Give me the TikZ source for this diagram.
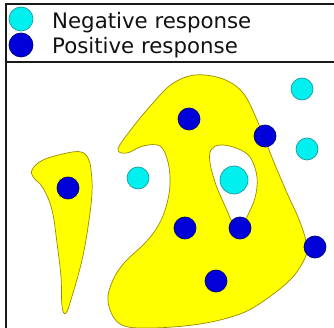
\documentclass[tikz,border=0pt]{standalone}
\usepackage{fontspec}
\setmainfont{DejaVu Sans}
\usetikzlibrary{positioning}
\definecolor{Ink}{HTML}{111111}
\definecolor{Frame}{HTML}{1A1A1A}
\definecolor{Blob}{HTML}{FFFF00}
\definecolor{BlobLine}{HTML}{9A8A00}
\definecolor{Neg}{HTML}{00F0F0}
\definecolor{NegLine}{HTML}{1E9A9A}
\definecolor{Pos}{HTML}{0000D8}
\definecolor{PosLine}{HTML}{00007A}
\tikzset{
  blob/.style={fill=Blob,draw=BlobLine,line width=0.7pt,even odd rule},
  negdot/.style={circle,fill=Neg,draw=NegLine,line width=0.7pt,minimum size=22pt,inner sep=0pt},
  posdot/.style={circle,fill=Pos,draw=PosLine,line width=0.7pt,minimum size=22pt,inner sep=0pt},
  legtext/.style={anchor=base west,inner sep=0pt,font=\fontsize{21.3}{25}\selectfont,text=Ink},
  frameline/.style={draw=Frame,line width=1.6pt}
}
\begin{document}
\begin{tikzpicture}[x=1pt,y=-1pt]
\useasboundingbox (0,0) rectangle (334,328);
% frame and legend
\draw[frameline] (334,4) -- (6,4) -- (6,328);
\draw[frameline] (6,62) -- (334,62);
\node[negdot,minimum size=24pt] (legneg) at (21,19) {};
\node[posdot,minimum size=24pt] (legpos) at (21,45) {};
\node[legtext] (negtxt) at (52,29) {Negative response};
\node[legtext] (postxt) at (52,54) {Positive response};
% left blob
\draw[blob] plot[smooth cycle,tension=0.65] coordinates {
  (32,170) (43,160) (67,153) (81,152) (88,158) (91,170) (92,193)
  (88,227) (82,260) (73,293) (66,313) (62,306) (61,277) (57,243)
  (52,210) (43,188) (34,178)};
% big blob with hole
\draw[blob] plot[smooth cycle,tension=0.6] coordinates {
  (118,149) (133,127) (153,103) (172,84) (195,75) (223,79) (243,93)
  (257,120) (273,160) (287,193) (300,222) (307,247) (303,262)
  (290,280) (265,300) (240,314) (200,324) (150,328) (120,324)
  (108,302) (113,280) (125,262) (145,243) (158,226) (166,207)
  (170,185) (168,162) (160,146) (143,146) (127,153)}
  plot[smooth cycle,tension=0.6] coordinates {
  (220,145) (236,148) (250,157) (257,177) (255,198) (247,217)
  (239,236) (232,222) (225,206) (216,185) (210,163) (211,150)};
% responses
\node[posdot] (p1) at (68,188) {};
\node[negdot] (n1) at (138,178) {};
\node[posdot] (p2) at (189,119) {};
\node[posdot] (p3) at (265,136) {};
\node[negdot] (n2) at (302,89) {};
\node[negdot] (n3) at (307,149) {};
\node[negdot,minimum size=28pt] (n4) at (234,180) {};
\node[posdot] (p4) at (185,228) {};
\node[posdot] (p5) at (240,228) {};
\node[posdot] (p6) at (315,247) {};
\node[posdot] (p7) at (216,281) {};
\end{tikzpicture}
\end{document}
